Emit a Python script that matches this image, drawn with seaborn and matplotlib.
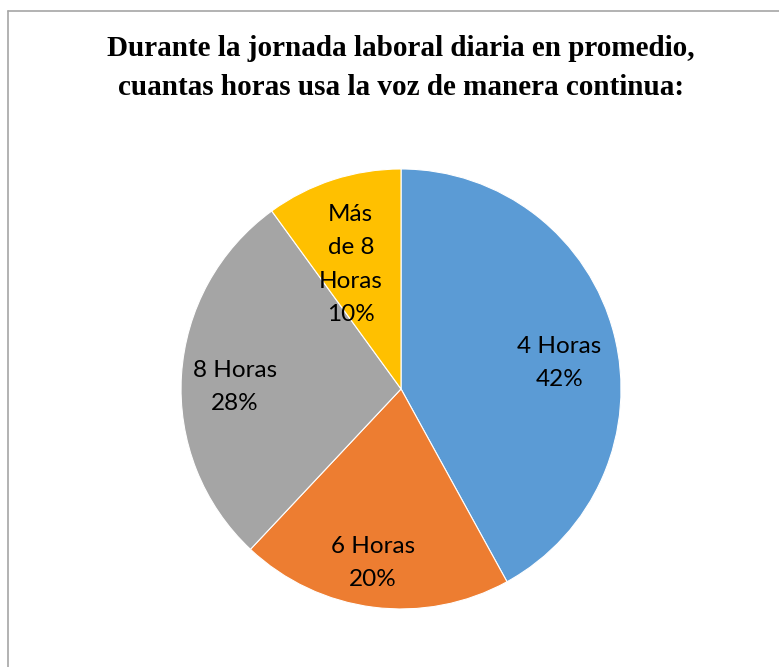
import numpy as np
import matplotlib
matplotlib.use("Agg")
import matplotlib.pyplot as plt
import seaborn as sns
from matplotlib.lines import Line2D

sns.set_style("white")

# data
categories = ["4 Horas", "6 Horas", "8 Horas", "Más\nde 8\nHoras"]
percent = [42, 20, 28, 10]
colors = ["#5B9BD5", "#ED7D31", "#A5A5A5", "#FFC000"]

# label placement inside slices (radius fraction, angle nudge in degrees)
label_dist = [0.73, 0.80, 0.755, 0.61]
label_nudge = [-5, -2, 3, 4]

fig = plt.figure(figsize=(7.79, 6.67), dpi=100)
ax = fig.add_axes([0.2324, 0.087, 0.5648, 0.6597])

wedges, _ = ax.pie(
    percent,
    colors=colors,
    startangle=90,
    counterclock=False,
    wedgeprops=dict(edgecolor="white", linewidth=0.8),
)
ax.set_xlim(-1, 1)
ax.set_ylim(-1, 1)
ax.set_aspect("equal")
ax.axis("off")

for w, cat, p, d, nd in zip(wedges, categories, percent, label_dist, label_nudge):
    ang = np.deg2rad((w.theta1 + w.theta2) / 2 + nd)
    ax.text(
        d * np.cos(ang), d * np.sin(ang),
        f"{cat}\n{p}%",
        ha="center", va="center",
        fontsize=17.5, family=["Lato", "DejaVu Sans"],
        linespacing=1.72, color="black",
    )

fig.text(
    0.515, 0.898,
    "Durante la jornada laboral diaria en promedio,\ncuantas horas usa la voz de manera continua:",
    ha="center", va="center",
    fontsize=21, fontweight="bold", color="black",
    family=["Liberation Serif", "DejaVu Serif"],
    linespacing=1.55,
)

# chart frame (top and left edges visible)
fig.add_artist(Line2D([8 / 779, 1], [1 - 11 / 667, 1 - 11 / 667],
                      color="#A6A6A6", lw=1.2, transform=fig.transFigure))
fig.add_artist(Line2D([8 / 779, 8 / 779], [0, 1 - 11 / 667],
                      color="#A6A6A6", lw=1.2, transform=fig.transFigure))

fig.savefig("out.png", dpi=100)
